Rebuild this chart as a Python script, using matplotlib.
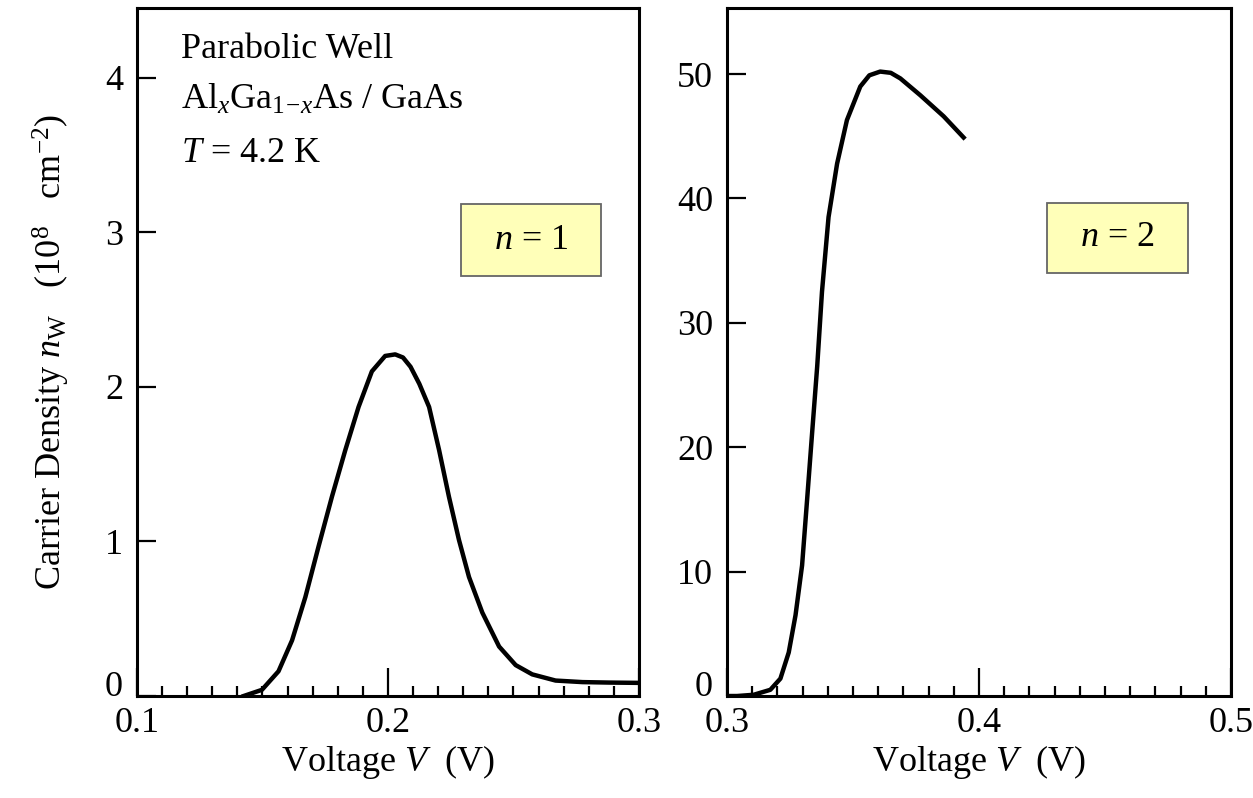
import numpy as np
import matplotlib.pyplot as plt
from matplotlib.patches import Rectangle
from matplotlib.ticker import MultipleLocator

plt.rcParams['font.family'] = ['Liberation Serif', 'DejaVu Serif']
plt.rcParams['mathtext.fontset'] = 'custom'
plt.rcParams['mathtext.rm'] = 'Liberation Serif'
plt.rcParams['mathtext.it'] = 'Liberation Serif:italic'
plt.rcParams['font.size'] = 26

# n = 1 subband: carrier density vs voltage
v1 = [0.1425, 0.1498, 0.1564, 0.1618, 0.1671, 0.1724, 0.1777, 0.1830, 0.1883,
      0.1936, 0.1989, 0.2029, 0.2060, 0.2090, 0.2125, 0.2164, 0.2204, 0.2243,
      0.2283, 0.2323, 0.2376, 0.2443, 0.2509, 0.2575, 0.2668, 0.2775, 0.2880,
      0.3000]
n1 = [0.0, 0.04, 0.16, 0.36, 0.64, 0.97, 1.29, 1.59, 1.87,
      2.10, 2.20, 2.21, 2.19, 2.13, 2.02, 1.87, 1.59, 1.29,
      1.01, 0.77, 0.54, 0.32, 0.20, 0.14, 0.10, 0.09, 0.087,
      0.085]

# n = 2 subband
v2 = [0.3000, 0.3040, 0.3106, 0.3172, 0.3212, 0.3245, 0.3272, 0.3298, 0.3318,
      0.3338, 0.3358, 0.3377, 0.3403, 0.3437, 0.3476, 0.3529, 0.3565, 0.3608,
      0.3650, 0.3688, 0.3767, 0.3860, 0.3939]
n2 = [0.0, 0.0, 0.1, 0.5, 1.4, 3.5, 6.5, 10.5, 15.8,
      21.2, 26.5, 32.5, 38.5, 42.8, 46.3, 49.0, 49.9, 50.2,
      50.1, 49.65, 48.3, 46.6, 44.9]

fig = plt.figure(figsize=(12.53, 7.98), dpi=100)
ax1 = fig.add_axes([0.1093, 0.1278, 0.4006, 0.862])
ax2 = fig.add_axes([0.5802, 0.1278, 0.4022, 0.862])


def style(ax, xticks, ytop, ystep):
    ax.set_xlim(xticks[0], xticks[-1])
    ax.set_ylim(0, ytop)
    ax.set_xticks(xticks)
    ax.set_xticklabels([f'{t:.1f}' for t in xticks])
    ax.xaxis.set_minor_locator(MultipleLocator(0.01))
    ax.set_yticks(np.arange(0, ytop, ystep))
    ax.tick_params(axis='x', which='major', direction='in', length=20,
                   width=1.6, pad=8, top=False)
    ax.tick_params(axis='x', which='minor', direction='in', length=7,
                   width=1.6, top=False)
    ax.tick_params(axis='y', which='major', direction='in', length=14,
                   width=1.6, pad=10, right=False)
    for s in ax.spines.values():
        s.set_linewidth(2.2)
    ax.set_xlabel(r'Voltage $V$  (V)', labelpad=2)
    # lift the "0" label so it clears the x tick label below it
    ax.yaxis.get_major_ticks()[0].label1.set_verticalalignment('baseline')


def label_box(ax, x0, y0, w, h, txt):
    ax.add_patch(Rectangle((x0, y0), w, h, transform=ax.transAxes,
                           facecolor='#ffffb9', edgecolor='#666666',
                           linewidth=1.3, zorder=3))
    ax.text(x0 + w / 2, y0 + h / 2, txt, transform=ax.transAxes,
            ha='center', va='center', zorder=4)


ax1.plot(v1, n1, color='black', lw=3.2, solid_joinstyle='round')
style(ax1, [0.1, 0.2, 0.3], 4.45, 1)
ax1.set_ylabel(r'Carrier Density $n_{\mathrm{W}}$   ($10^8$   cm$^{-2}$)',
               labelpad=24)
label_box(ax1, 0.645, 0.610, 0.279, 0.105, r'$n$ = 1')

ax1.text(0.088, 0.940, 'Parabolic Well', transform=ax1.transAxes,
         ha='left', va='center')
ax1.text(0.088, 0.866, r'Al$_x$Ga$_{1\!-\!x}$As / GaAs',
         transform=ax1.transAxes, ha='left', va='center')
ax1.text(0.088, 0.788, r'$T$ = 4.2 K', transform=ax1.transAxes,
         ha='left', va='center')

ax2.plot(v2, n2, color='black', lw=3.2, solid_joinstyle='round')
style(ax2, [0.3, 0.4, 0.5], 55.3, 10)
label_box(ax2, 0.635, 0.615, 0.280, 0.102, r'$n$ = 2')

plt.savefig('out.png', dpi=100)
